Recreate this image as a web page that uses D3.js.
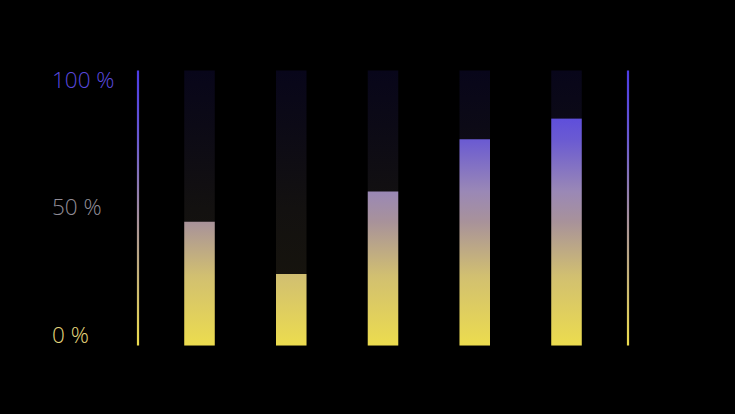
<!DOCTYPE html>
<html><head><meta charset="utf-8">
<script src="https://cdn.jsdelivr.net/npm/d3@7"></script>
<style>html,body{margin:0;padding:0;background:#000;}svg{display:block;}</style>
</head><body><svg id="chart" width="735" height="414"></svg>
<script>
const categories = ["A", "B", "C", "D", "E"];
const values = [0.45, 0.26, 0.56, 0.75, 0.825];
const tickValues = [0, 0.5, 1];
const tickLabels = ["0 %", "50 %", "100 %"];
const tickColors = ["#e4d67c", "#908c96", "#5848dc"];

(function () {
const W = 735, H = 414;
const plotTop = 70.5, plotBottom = 345.5;
const svg = d3.select("#chart");
svg.append("rect").attr("width", W).attr("height", H).attr("fill", "#000");

const y = d3.scaleLinear().domain([0, 1]).range([plotBottom, plotTop]);
const x = d3.scalePoint().domain(categories).range([199.5, 566.5]);
const barW = 30.5;

const defs = svg.append("defs");
function grad(id, stops) {
  const g = defs.append("linearGradient").attr("id", id)
    .attr("gradientUnits", "userSpaceOnUse")
    .attr("x1", 0).attr("x2", 0).attr("y1", y(0)).attr("y2", y(1));
  stops.forEach(s => g.append("stop").attr("offset", s[0]).attr("stop-color", s[1]));
}
grad("fillGrad", [[0, "#ecdc4e"], [0.25, "#d2c070"], [0.45, "#a8929a"], [0.56, "#9a88b6"], [0.75, "#6a5ad2"], [0.83, "#5e4edc"], [1, "#4c3ce6"]]);
grad("trackGrad", [[0, "#19160b"], [0.5, "#131110"], [0.8, "#0c0a16"], [1, "#08061a"]]);
grad("lineGrad", [[0, "#ecdc4e"], [0.45, "#a8929a"], [0.75, "#6a5ad2"], [1, "#4c3ce6"]]);

[138, 628].forEach(px => {
  svg.append("line").attr("x1", px).attr("x2", px + 0.01)
    .attr("y1", y(1)).attr("y2", y(0))
    .attr("stroke", "url(#lineGrad)").attr("stroke-width", 2.2);
});

svg.selectAll("rect.track").data(categories).join("rect").attr("class", "track")
  .attr("x", d => x(d) - barW / 2).attr("width", barW)
  .attr("y", y(1)).attr("height", y(0) - y(1))
  .attr("fill", "url(#trackGrad)");

svg.selectAll("rect.bar").data(values).join("rect").attr("class", "bar")
  .attr("x", (d, i) => x(categories[i]) - barW / 2).attr("width", barW)
  .attr("y", d => y(d)).attr("height", d => y(0) - y(d))
  .attr("fill", "url(#fillGrad)");

const baselines = ["alphabetic", "central", "hanging"];
const offs = [-3, -1.5, -1.5];
svg.selectAll("text.tick").data(tickValues).join("text").attr("class", "tick")
  .attr("x", 52).attr("y", (d, i) => y(d) + offs[i])
  .attr("dominant-baseline", (d, i) => baselines[i])
  .attr("fill", (d, i) => tickColors[i])
  .attr("font-family", "'Open Sans', 'Noto Sans', sans-serif")
  .attr("font-weight", 300)
  .attr("font-size", 22.5)
  .text((d, i) => tickLabels[i]);
})();
</script></body></html>
